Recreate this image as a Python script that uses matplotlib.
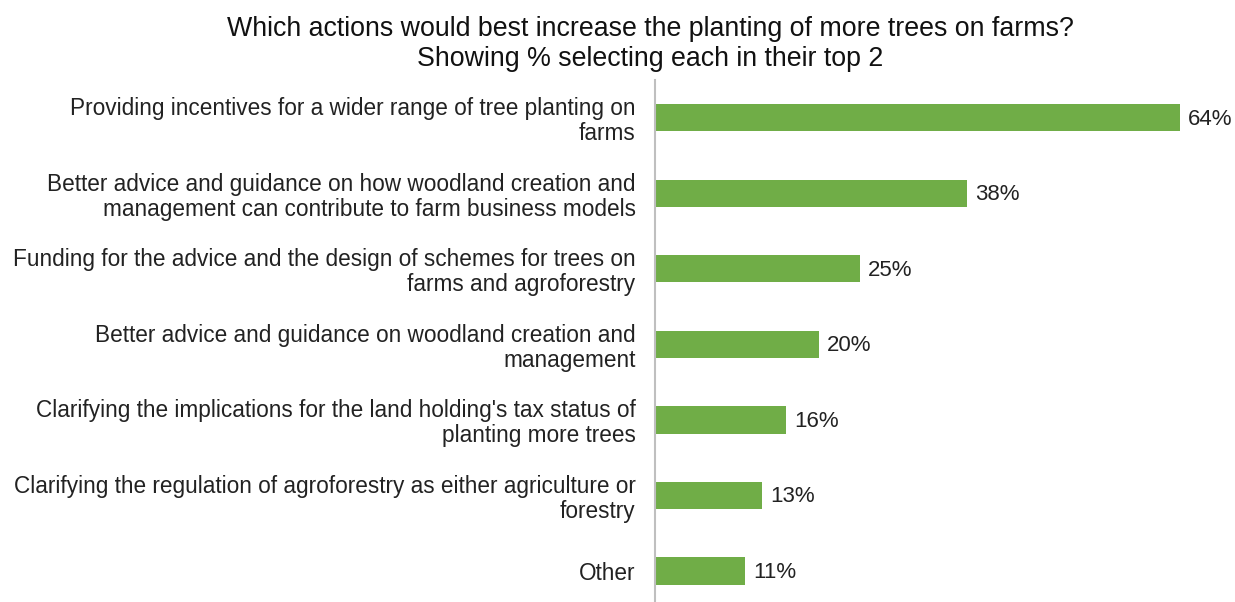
import matplotlib.pyplot as plt

plt.rcParams['font.family'] = ['Liberation Sans', 'DejaVu Sans']

actions = [
    "Providing incentives for a wider range of tree planting on\nfarms",
    "Better advice and guidance on how woodland creation and\nmanagement can contribute to farm business models",
    "Funding for the advice and the design of schemes for trees on\nfarms and agroforestry",
    "Better advice and guidance on woodland creation and\nmanagement",
    "Clarifying the implications for the land holding's tax status of\nplanting more trees",
    "Clarifying the regulation of agroforestry as either agriculture or\nforestry",
    "Other",
]
pct = [64, 38, 25, 20, 16, 13, 11]

fig = plt.figure(figsize=(12.35, 6.02), dpi=100)
ax = fig.add_axes([655 / 1235, 0, 580 / 1235, 522 / 602])

ypos = list(range(len(actions)))
ax.barh(ypos, pct, height=0.36, color='#70AD47')
for y, v in zip(ypos, pct):
    ax.text(v + 1.0, y + 0.02, f"{v}%", va='center', ha='left', fontsize=16, color='#222222')

ax.set_xlim(0, 70.7)
ax.set_ylim(6.41, -0.5)
ax.set_yticks(ypos)
ax.set_yticklabels(actions, fontsize=16.3, color='#222222', linespacing=1.1)
ax.tick_params(axis='y', length=0, pad=14)
ax.set_xticks([])
for s in ['top', 'right', 'bottom']:
    ax.spines[s].set_visible(False)
ax.spines['left'].set_color('#BFBFBF')
ax.spines['left'].set_linewidth(1.5)

fig.text(650 / 1235, 1 - 44 / 602,
         "Which actions would best increase the planting of more trees on farms?\nShowing % selecting each in their top 2",
         ha='center', va='center', fontsize=19.3, color='#111111', linespacing=1.22)

fig.savefig('out.png', dpi=100)
